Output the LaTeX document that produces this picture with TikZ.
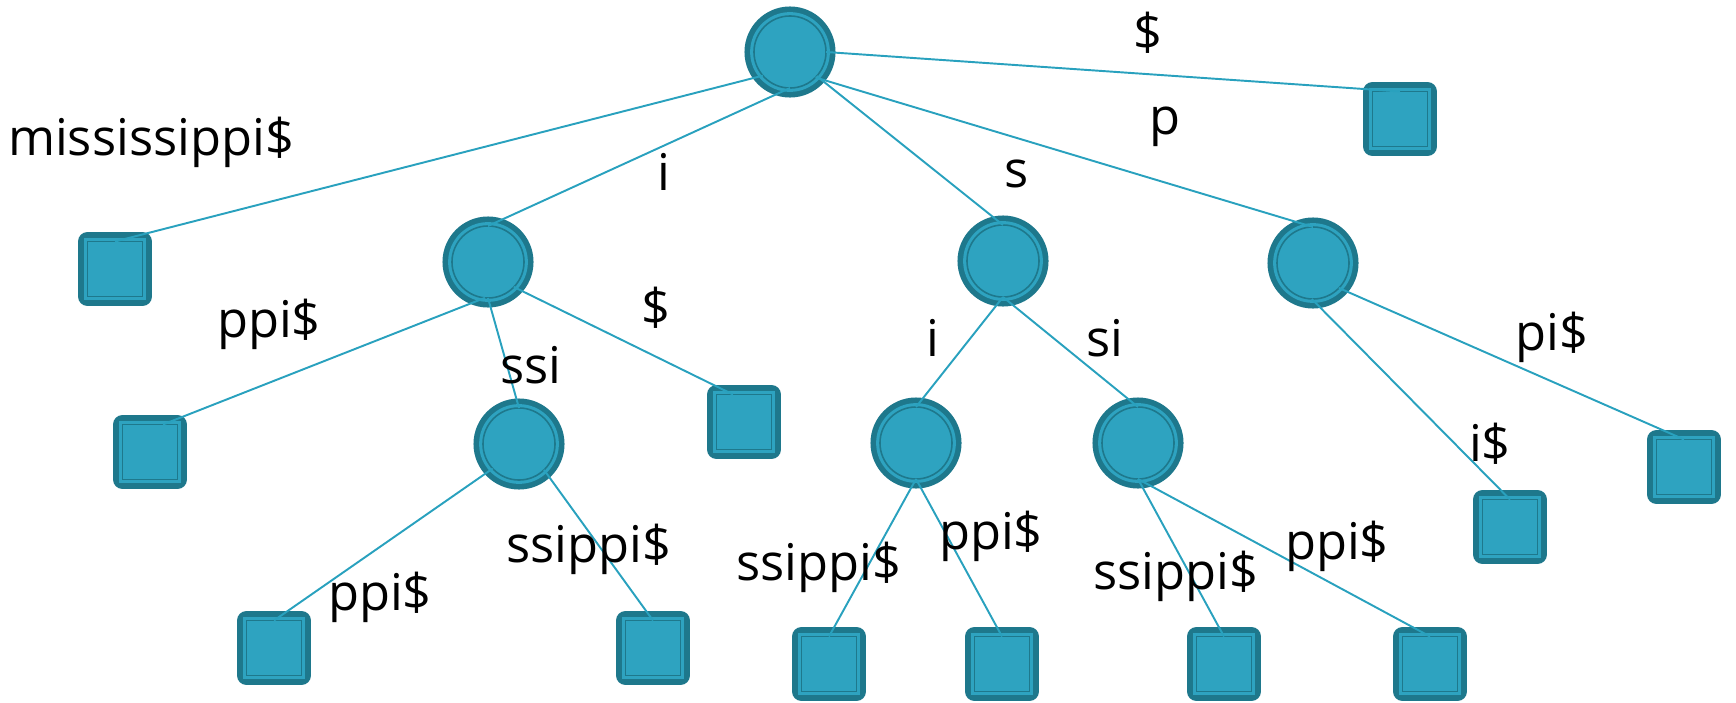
\documentclass[tikz,border=0pt]{standalone}
\usepackage{fontspec}
\setmainfont{Open Sans}
\usepackage{xcolor}
\usepackage{tikz}
\usetikzlibrary{positioning}

\definecolor{nodefill}{RGB}{46,163,192}
\definecolor{nodedark}{RGB}{30,120,140}
\definecolor{edgeblue}{RGB}{41,161,190}

\begin{document}
\begin{tikzpicture}[
  x=0.01cm, y=-0.01cm,
  inner/.style={circle, minimum size=0.72cm, inner sep=0pt, outer sep=0pt, fill=nodefill, draw=nodedark, line width=0.45pt,
    preaction={draw=nodedark, line width=5.4pt},
    preaction={draw=nodefill, line width=2.2pt}},
  leaf/.style={rectangle, minimum size=0.55cm, inner sep=0pt, outer sep=0pt, fill=nodefill, draw=nodedark, line width=0.45pt,
    preaction={draw=nodedark, line width=5.4pt, line join=round},
    preaction={draw=nodefill, line width=2pt}},
  edge/.style={draw=edgeblue, line width=0.55pt},
  edgetext/.style={font=\fontsize{14.4}{16}\selectfont, inner sep=0pt}
]
\useasboundingbox (0,0) rectangle (1736,703);

% internal nodes
\node[inner] (root) at (790, 52) {};
\node[inner] (ni) at (488, 262) {};
\node[inner] (ns) at (1003, 261) {};
\node[inner] (np) at (1313, 263) {};
\node[inner] (nssi) at (519, 444) {};
\node[inner] (nsi) at (916, 443) {};
\node[inner] (nssi2) at (1138, 443) {};

% leaves
\node[leaf] (ldollar) at (1400, 119) {};
\node[leaf] (lmiss) at (115, 269) {};
\node[leaf] (lippi) at (150, 452) {};
\node[leaf] (lidollar) at (744, 422) {};
\node[leaf] (lssippi1) at (274, 648) {};
\node[leaf] (lssippi2) at (653, 648) {};
\node[leaf] (lsissippi) at (829, 664) {};
\node[leaf] (lsippi) at (1002, 664) {};
\node[leaf] (lsississippi) at (1224, 664) {};
\node[leaf] (lsisppi) at (1430, 664) {};
\node[leaf] (lpi) at (1510, 527) {};
\node[leaf] (lppi) at (1684, 467) {};

% edges
\draw[edge] (root.0) -- (ldollar.north);
\draw[edge] (root.-139) -- (lmiss.north);
\draw[edge] (root.south) -- (ni.north);
\draw[edge] (root.-42) -- (ns.north);
\draw[edge] (root.-45) -- (np.north);
\draw[edge] (ni.-95) -- ([xshift=0.13cm]lippi.north);
\draw[edge] (ni.south) -- (nssi.north);
\draw[edge] (ni.-44) -- ([xshift=-0.11cm]lidollar.north);
\draw[edge] (nssi.-137) -- (lssippi1.north);
\draw[edge] (nssi.-46) -- (lssippi2.north);
\draw[edge] (ns.south) -- (nsi.north);
\draw[edge] (ns.south) -- (nssi2.north);
\draw[edge] (nsi.south) -- (lsissippi.north);
\draw[edge] (nsi.south) -- (lsippi.north);
\draw[edge] (nssi2.south) -- (lsississippi.north);
\draw[edge] (nssi2.south) -- (lsisppi.north);
\draw[edge] (np.-92) -- (lpi.north);
\draw[edge] (np.-44) -- (lppi.north);

% edge texts
\node[edgetext] (troot) at (1148, 33) {\$};
\node[edgetext] (tmiss) at (151, 142) {mississippi\$};
\node[edgetext] (ti) at (664, 172) {i};
\node[edgetext] (ts) at (1017, 174) {s};
\node[edgetext] (tp) at (1165, 127) {p};
\node[edgetext] (tippi) at (269, 324) {ppi\$};
\node[edgetext] (tssi) at (531, 365) {ssi};
\node[edgetext] (tidollar) at (656, 308) {\$};
\node[edgetext] (tsi) at (933, 338) {i};
\node[edgetext] (tssi2) at (1105, 338) {si};
\node[edgetext] (tppi) at (1552, 337) {pi\$};
\node[edgetext] (tpi) at (1490, 444) {i\$};
\node[edgetext] (tssippi1) at (380, 597) {ppi\$};
\node[edgetext] (tssippi2) at (589, 549) {ssippi\$};
\node[edgetext] (tsissippi) at (819, 567) {ssippi\$};
\node[edgetext] (tsippi) at (991, 536) {ppi\$};
\node[edgetext] (tsississippi) at (1176, 576) {ssippi\$};
\node[edgetext] (tsisppi) at (1337, 546) {ppi\$};

\end{tikzpicture}
\end{document}
